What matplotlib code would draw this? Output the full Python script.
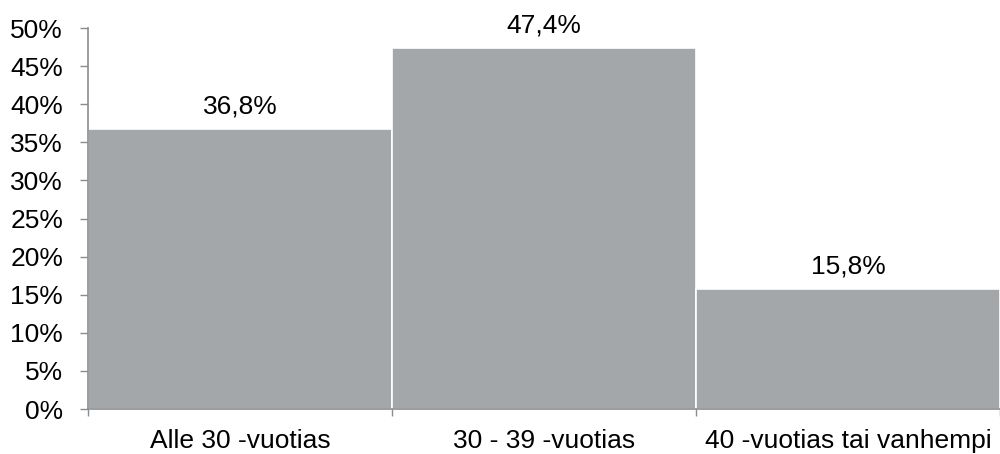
import matplotlib
matplotlib.use("Agg")
import matplotlib.pyplot as plt
from matplotlib.ticker import FixedLocator

plt.rcParams['font.family'] = ['Liberation Sans', 'DejaVu Sans']

categories = ["Alle 30 -vuotias", "30 - 39 -vuotias", "40 -vuotias tai vanhempi"]
values = [36.8, 47.4, 15.8]
value_labels = ["36,8%", "47,4%", "15,8%"]
y_ticks = [0, 5, 10, 15, 20, 25, 30, 35, 40, 45, 50]
y_tick_labels = [f"{t}%" for t in y_ticks]

bar_color = "#A4A7AA"
axis_color = "#8C8C8C"
fs = 19

fig = plt.figure(figsize=(10, 4.54), dpi=100)
ax = fig.add_axes([0.088, 0.0991, 0.912, 0.8392])

x = list(range(len(categories)))
ax.bar(x, values, width=1.0, color=bar_color, edgecolor="white", linewidth=1.2, zorder=2)

for xi, v, lbl in zip(x, values, value_labels):
    ax.annotate(lbl, (xi, v), xytext=(0, 7.5), textcoords="offset points",
                ha="center", va="bottom", fontsize=fs, color="black")

ax.set_xlim(-0.5, len(categories) - 0.5)
ax.set_ylim(0, 50)

ax.set_yticks(y_ticks)
ax.set_yticklabels(y_tick_labels, fontsize=fs)
ax.set_xticks(x)
ax.set_xticklabels(categories, fontsize=fs)
ax.xaxis.set_minor_locator(FixedLocator([i - 0.5 for i in range(len(categories) + 1)]))

ax.tick_params(axis="y", length=6, width=1, color=axis_color, pad=12)
ax.tick_params(axis="x", which="major", length=0, pad=14.5)
ax.tick_params(axis="x", which="minor", length=5, width=1, color=axis_color)

for side in ("top", "right"):
    ax.spines[side].set_visible(False)
for side in ("left", "bottom"):
    ax.spines[side].set_color(axis_color)
    ax.spines[side].set_linewidth(1.2)
    ax.spines[side].set_zorder(3)

fig.savefig("out.png", dpi=100)
